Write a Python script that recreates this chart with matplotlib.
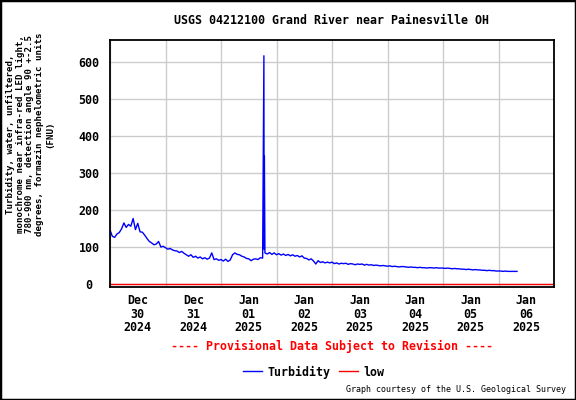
import numpy as np
import matplotlib
matplotlib.use("Agg")
import matplotlib.pyplot as plt
import matplotlib.dates as mdates
from matplotlib.lines import Line2D
from matplotlib.patches import Rectangle
from datetime import datetime, timedelta

# hourly turbidity (FNU), one list per day starting 00:00
dec30 = [147, 130, 127, 136, 140, 150, 166, 154, 162, 157, 178, 148,
         165, 142, 141, 133, 124, 116, 112, 107, 109, 116, 101, 103]
dec31 = [99, 95, 97, 93, 91, 90, 86, 89, 84, 80, 76, 80,
         73, 76, 71, 74, 69, 72, 68, 71, 85, 67, 69, 65]
jan01 = [67, 63, 68, 62, 66, 80, 85, 81, 80, 76, 74, 70,
         69, 64, 68, 69, 67, 72, 71, 85, 82, 86, 81, 85]
jan02 = [80, 83, 79, 82, 78, 81, 77, 80, 76, 78, 74, 77,
         71, 70, 66, 69, 63, 55, 64, 59, 61, 58, 60, 58]
jan03 = [60, 56, 58, 55, 57, 56, 57, 54, 56, 55, 53, 55,
         54, 55, 52, 54, 52, 53, 51, 52, 51, 50, 51, 50]
jan04 = [49, 50, 48, 49, 48, 47, 48, 48, 47, 46, 47, 46,
         46, 45, 46, 45, 45, 44, 45, 45, 44, 45, 44, 44]
jan05 = [44, 43, 44, 43, 42, 43, 42, 42, 41, 41, 40, 41,
         40, 39, 40, 39, 39, 38, 38, 37, 38, 37, 37, 36]
jan06 = [36, 36, 35, 36, 35, 35, 35, 35, 35]
# short spike on the evening of Jan 01 (hours since Dec 30 00:00)
spike_hours = [66.55, 66.65, 66.75, 66.85]
spike_vals = [618, 95, 347, 240]
low_value = 0

start = datetime(2024, 12, 30)
vals = dec30 + dec31 + jan01 + jan02 + jan03 + jan04 + jan05 + jan06
hrs = list(range(len(vals))) + spike_hours
vals = vals + spike_vals
order = np.argsort(hrs)
t = [start + timedelta(hours=float(hrs[i])) for i in order]
v = [vals[i] for i in order]

MONO = "DejaVu Sans Mono"
FS = 8.4
plt.rcParams.update({"font.family": MONO, "font.weight": "bold", "font.size": FS})

fig = plt.figure(figsize=(5.76, 4.0), dpi=100)
ax = fig.add_axes([110/576, 1-287.3/400, 444/576, (287.3-39.5)/400])

ax.plot(t, v, color="#0000ff", lw=1.0)
ax.axhline(low_value, color="#ff0000", lw=1.0)

ax.set_xlim(start, start + timedelta(days=8))
ax.set_ylim(-8, 662)
ax.set_yticks(range(0, 700, 100))

ax.xaxis.set_major_locator(mdates.DayLocator())
ax.xaxis.set_major_formatter(plt.NullFormatter())
ax.xaxis.set_minor_locator(mdates.HourLocator(byhour=[12]))
ax.xaxis.set_minor_formatter(mdates.DateFormatter("%b\n%d\n%Y"))
ax.tick_params(axis="x", which="both", length=0, pad=5)
ax.tick_params(axis="y", length=0, pad=15)
for lbl in ax.get_yticklabels():
    lbl.set_ha("center")
for lbl in ax.get_xticklabels(minor=True):
    lbl.set_linespacing(1.05)

ax.grid(True, which="major", color="#cccccc", lw=1.0)
ax.set_axisbelow(True)
for s in ax.spines.values():
    s.set_linewidth(1.3)

fig.text(332/576, 1-20/400, "USGS 04212100 Grand River near Painesville OH",
         ha="center", va="center", fontsize=FS)
fig.text(30/576, 1-134/400,
         "Turbidity, water, unfiltered,\nmonochrome near infra-red LED light,\n"
         "780-900 nm, detection angle 90 +-2.5\ndegrees, formazin nephelometric units\n(FNU)",
         rotation=90, ha="center", va="center", multialignment="center",
         fontsize=6.6, linespacing=1.12)
fig.text(332/576, 1-346/400, "---- Provisional Data Subject to Revision ----",
         ha="center", va="center", color="#ff0000", fontsize=FS)
fig.text(566/576, 1-390/400, "Graph courtesy of the U.S. Geological Survey",
         ha="right", va="center", fontsize=6.0, fontweight="normal")

handles = [Line2D([], [], color="#0000ff", lw=1.0), Line2D([], [], color="#ff0000", lw=1.0)]
fig.legend(handles, ["Turbidity", "low"], loc="center", bbox_to_anchor=(314/576, 1-372/400),
           ncol=2, frameon=False, handlelength=1.6, handletextpad=0.5,
           columnspacing=0.7, fontsize=FS)

fig.patches.append(Rectangle((0, 0), 1, 1, transform=fig.transFigure, fill=False,
                             ec="black", lw=2.5))
fig.savefig("out.png", dpi=100)
